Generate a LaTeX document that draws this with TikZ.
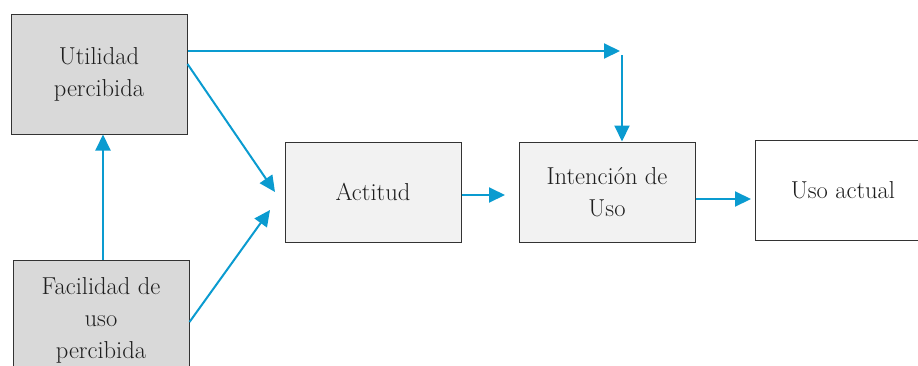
\documentclass[tikz,border=0pt]{standalone}
\usetikzlibrary{arrows.meta}
\definecolor{arrblue}{HTML}{0A9BD0}
\definecolor{boxgray}{HTML}{D9D9D9}
\definecolor{boxlight}{HTML}{F2F2F2}
\definecolor{boxline}{HTML}{333333}
\tikzset{
  box/.style={draw=boxline, line width=1pt, align=center, inner sep=0pt,
    font=\fontsize{24.5}{32}\selectfont, text=black!88},
  flow/.style={draw=arrblue, line width=2pt, -{Triangle[length=16pt,width=15pt]}}}
\begin{document}
\begin{tikzpicture}[x=1pt,y=-1pt]
\useasboundingbox (0,0) rectangle (918,365);
\node[box, fill=boxgray, minimum width=176pt, minimum height=120pt] (ut) at (99,74) {Utilidad\\percibida};
\node[box, fill=boxgray, minimum width=176pt, minimum height=120pt] (fa) at (101,320) {Facilidad de\\uso\\percibida};
\node[box, fill=boxlight, minimum width=176pt, minimum height=100pt] (ac) at (373,192) {Actitud};
\node[box, fill=boxlight, minimum width=176pt, minimum height=100pt] (in) at (607,192) {Intención de\\Uso};
\node[box, fill=white, minimum width=176pt, minimum height=100pt] (ua) at (843,190) {Uso actual};
\coordinate (c1) at (620,51);
\coordinate (c2) at (622,55);
\draw[flow] (ut.east |- c1) -- (c1);
\draw[flow] (c2) -- (in.north -| c2);
\draw[flow] (ut.east |- 0,64) -- (275,192);
\draw[flow] (fa.east |- 0,322) -- (270,210);
\draw[flow] (fa.north -| 103,0) -- (ut.south -| 103,0);
\draw[flow] (ac.east |- 0,195) -- (505,195);
\draw[flow] (in.east |- 0,199) -- (751,199);
\end{tikzpicture}
\end{document}
